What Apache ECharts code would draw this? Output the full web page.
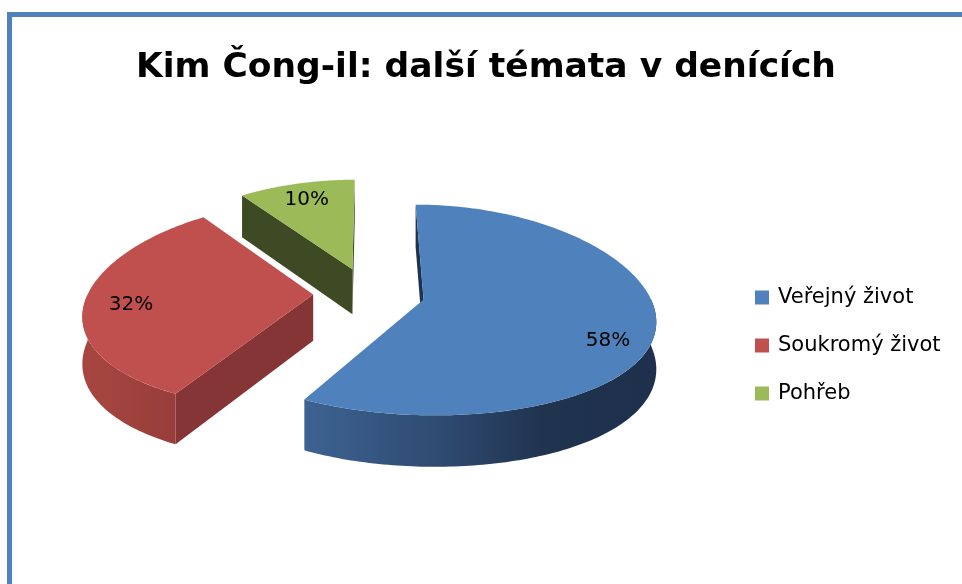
<!DOCTYPE html>
<html>
<head>
<meta charset="utf-8">
<title>Kim Čong-il: další témata v denících</title>
<script src="https://cdn.jsdelivr.net/npm/echarts@6/dist/echarts.min.js"></script>
<style>
  html, body { margin: 0; padding: 0; background: #fff; }
  #chart { width: 962px; height: 584px; }
</style>
</head>
<body>
<div id="chart"></div>
<script>
"use strict";

/* ── 数据 ── */
const CATEGORIES = ["Veřejný život", "Soukromý život", "Pohřeb"];
const VALUES     = [58, 32, 10];

/* ── 样式 ── */
const TOP_COLORS  = ["#4F81BD", "#C0504D", "#9BBB59"];
const WALL_COLORS = ["#1F3250", "#853535", "#3E4A23"];
const SIDE_STOPS  = [
  [{ offset: 0, color: "#3D6392" }, { offset: 0.42, color: "#2D486D" }, { offset: 0.68, color: "#20334F" }, { offset: 1, color: "#1E304B" }],
  [{ offset: 0, color: "#A84641" }, { offset: 1, color: "#973D3A" }],
  [{ offset: 0, color: "#6E8A3A" }, { offset: 1, color: "#5A7230" }]
];
const FONT = "DejaVu Sans";

// 3D 饼图几何（透视近似 Excel 的立体饼图），px / py 为横向、纵向透视强度
const PIE = { cx: 369, cy: 293, rx: 225, ry: 103, px: 0.17, py: 0.1, h: 46, explode: 0.248 };

const total = VALUES.reduce((a, b) => a + b, 0);

function sliceAngles(i) {
  let acc = 0;
  for (let k = 0; k < i; k++) acc += VALUES[k];
  return [acc / total * 360, (acc + VALUES[i]) / total * 360];
}

function proj(X, Z, bottom) {
  const sx = 1 / (1 + PIE.px * Z);
  const sy = 1 / (1 + PIE.py * Z);
  return [PIE.cx + X * PIE.rx * sx, PIE.cy - Z * PIE.ry * sy + (bottom ? PIE.h * sy : 0)];
}

function renderSlice(params, api) {
  const i = params.seriesIndex;
  const [a1, a2] = sliceAngles(i);
  const midDeg = (a1 + a2) / 2;
  const mid = midDeg * Math.PI / 180;
  const ox = PIE.explode * Math.sin(mid), oz = PIE.explode * Math.cos(mid);
  const pt = (deg, r, bottom) => {
    const t = deg * Math.PI / 180;
    return proj(ox + r * Math.sin(t), oz + r * Math.cos(t), bottom);
  };
  const arc = (from, to, bottom) => {
    const pts = [];
    const n = Math.max(2, Math.ceil(Math.abs(to - from)));
    for (let k = 0; k <= n; k++) pts.push(pt(from + (to - from) * k / n, 1, bottom));
    return pts;
  };
  const children = [];

  // 径向侧面：朝向观察者才画
  [[a1, -90], [a2, 90]].forEach(([a, dn]) => {
    const n = (a + dn) * Math.PI / 180;
    const vis = Math.sin(n) * (0 - ox) + Math.cos(n) * (-1 / PIE.px - oz) > 0;
    if (!vis) return;
    children.push({
      type: "polygon",
      shape: { points: [pt(0, 0, false), pt(a, 1, false), pt(a, 1, true), pt(0, 0, true)] },
      style: { fill: WALL_COLORS[i] }
    });
  });

  // 外侧弧面（前半圈）
  const w1 = Math.max(a1, 90), w2 = Math.min(a2, 270);
  if (w2 > w1) {
    const top = arc(w1, w2, false), bot = arc(w1, w2, true).reverse();
    children.push({
      type: "polygon",
      shape: { points: top.concat(bot) },
      style: { fill: new echarts.graphic.LinearGradient(0, 0, 1, 0, SIDE_STOPS[i]) }
    });
  }

  // 顶面
  children.push({
    type: "polygon",
    shape: { points: [pt(0, 0, false)].concat(arc(a1, a2, false)) },
    style: { fill: TOP_COLORS[i] }
  });

  // 百分比标签：朝前的扇区标签下移一些（仿 Excel 的位置）
  const lp = pt(midDeg, 0.8, false);
  children.push({
    type: "text",
    x: lp[0], y: lp[1] + 80 * Math.max(0, -Math.cos(mid)), z2: 10,
    style: {
      text: Math.round(api.value(0) / total * 100) + "%",
      fontFamily: FONT, fontSize: 20, fill: "#000",
      align: "center", verticalAlign: "middle"
    }
  });
  return { type: "group", children };
}

const chart = echarts.init(document.getElementById("chart"));
chart.setOption({
  animation: false,
  backgroundColor: "#fff",
  title: {
    text: "Kim Čong-il: další témata v denících",
    left: 136, top: 51, padding: 0,
    textStyle: { fontFamily: FONT, fontSize: 34.5, fontWeight: "bold", color: "#000" }
  },
  legend: {
    data: CATEGORIES,
    orient: "vertical", left: 750, top: 282,
    itemWidth: 22, itemHeight: 14, itemGap: 27,
    icon: "path://M0,0H14V14H0Z",
    textStyle: { fontFamily: FONT, fontSize: 21, lineHeight: 21, color: "#000" }
  },
  graphic: [
    { type: "rect", shape: { x: 7, y: 12, width: 5, height: 600 }, style: { fill: "#4F81BD" }, silent: true },
    { type: "rect", shape: { x: 7, y: 12, width: 1000, height: 5 }, style: { fill: "#4F81BD" }, silent: true }
  ],
  series: CATEGORIES.map((name, i) => ({
    type: "custom",
    name,
    coordinateSystem: "none",
    renderItem: renderSlice,
    data: [[VALUES[i]]],
    itemStyle: { color: TOP_COLORS[i] },
    z: 3 - i
  }))
});
window.addEventListener("resize", () => chart.resize());
</script>
</body>
</html>
